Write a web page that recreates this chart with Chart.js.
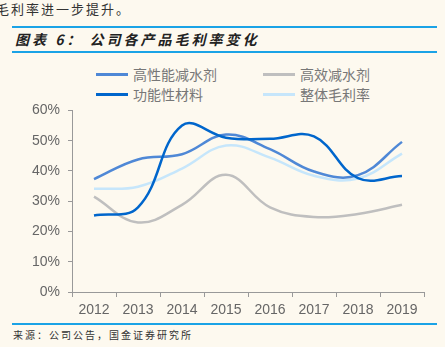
<!DOCTYPE html>
<html>
<head>
<meta charset="utf-8">
<script src="https://cdn.jsdelivr.net/npm/chart.js@4.4.1/dist/chart.umd.min.js"></script>
<style>
  body { margin: 0; background: #fdf9ef; width: 445px; height: 347px; overflow: hidden; position: relative; font-family: "Noto Sans CJK SC", sans-serif; }
  .lead { position: absolute; left: -4px; top: -1px; font-size: 13px; letter-spacing: 2px; color: #333; white-space: nowrap; }
  .rule { position: absolute; left: 12px; width: 425px; height: 2px; background: #1ba3e6; }
  .title { position: absolute; left: 15px; top: 29px; font-size: 14px; font-weight: bold; font-style: italic; letter-spacing: 3px; color: #222; white-space: nowrap; }
  .source { position: absolute; left: 13px; top: 327px; font-size: 10px; letter-spacing: 2px; color: #333; white-space: nowrap; }
  #legend { position: absolute; left: 0; top: 64px; width: 445px; height: 40px; }
  .item { position: absolute; font-size: 14px; color: #777; line-height: 20px; white-space: nowrap; }
  .item span { position: absolute; top: 9px; width: 32px; height: 3px; }
  .item b { font-weight: normal; position: absolute; left: 37px; top: 0; }
  #wrap { position: absolute; left: 0; top: 94px; width: 445px; height: 228px; }
</style>
</head>
<body>
<div class="lead">毛利率进一步提升。</div>
<div class="rule" style="top:26px"></div>
<div class="title">图表 6： 公司各产品毛利率变化</div>
<div class="rule" style="top:51px"></div>
<div id="legend"></div>
<div id="wrap"><canvas id="margins"></canvas></div>
<div class="rule" style="top:323px"></div>
<div class="source">来源：公司公告，国金证券研究所</div>

<script>
var years = ["2012", "2013", "2014", "2015", "2016", "2017", "2018", "2019"];
var seriesNames = ["高性能减水剂", "高效减水剂", "功能性材料", "整体毛利率"];
var seriesColors = ["#4f88d6", "#bfbfbf", "#0066cc", "#c6e6fb"];

// gross margin, %
var highPerf = [37.3, 43.8, 45.5, 52.0, 47.2, 39.8, 38.6, 49.6];
var highEff = [31.5, 23.0, 28.8, 38.7, 28.0, 24.8, 25.8, 28.8];
var functional = [25.3, 28.0, 55.0, 51.0, 50.6, 51.4, 37.6, 38.3];
var overall = [34.1, 34.8, 40.8, 48.4, 44.4, 38.4, 37.5, 45.7];

var seriesData = [highPerf, highEff, functional, overall];

// legend in two columns
var legendPos = [[96, 0], [263, 0], [96, 20], [263, 20]];
var legend = document.getElementById("legend");
seriesNames.forEach(function (name, i) {
  var el = document.createElement("div");
  el.className = "item";
  el.style.left = legendPos[i][0] + "px";
  el.style.top = legendPos[i][1] + "px";
  el.innerHTML = "<span style='background:" + seriesColors[i] + "'></span><b>" + name + "</b>";
  legend.appendChild(el);
});

var datasets = seriesNames.map(function (name, i) {
  return {
    label: name,
    data: seriesData[i],
    borderColor: seriesColors[i],
    backgroundColor: seriesColors[i],
    borderWidth: 2.5,
    pointRadius: 0,
    tension: 0.4,
    fill: false
  };
});
// darker lines sit on top
datasets[0].order = 2;
datasets[1].order = 4;
datasets[2].order = 1;
datasets[3].order = 3;

var ctx = document.getElementById("margins").getContext("2d");
new Chart(ctx, {
  type: "line",
  data: { labels: years, datasets: datasets },
  options: {
    responsive: true,
    maintainAspectRatio: false,
    animation: false,
    layout: { padding: { top: 3, right: 21, left: 0, bottom: 0 } },
    plugins: { legend: { display: false }, tooltip: { enabled: false } },
    scales: {
      x: {
        type: "category",
        offset: true,
        grid: { offset: true, drawOnChartArea: false, tickLength: 5, color: "#999" },
        border: { color: "#999", width: 1 },
        ticks: { color: "#666", padding: 5, font: { family: "Liberation Sans", size: 14 } },
        afterFit: function (scale) { scale.height = 30; }
      },
      y: {
        min: 0,
        max: 60,
        grid: { drawOnChartArea: false, tickLength: 4, color: "#999" },
        border: { color: "#999", width: 1 },
        ticks: {
          stepSize: 10,
          color: "#666",
          padding: 8,
          font: { family: "Liberation Sans", size: 14 },
          callback: function (v) { return v + "%"; }
        },
        afterFit: function (scale) { scale.width = 72; }
      }
    }
  }
});
</script>
</body>
</html>
